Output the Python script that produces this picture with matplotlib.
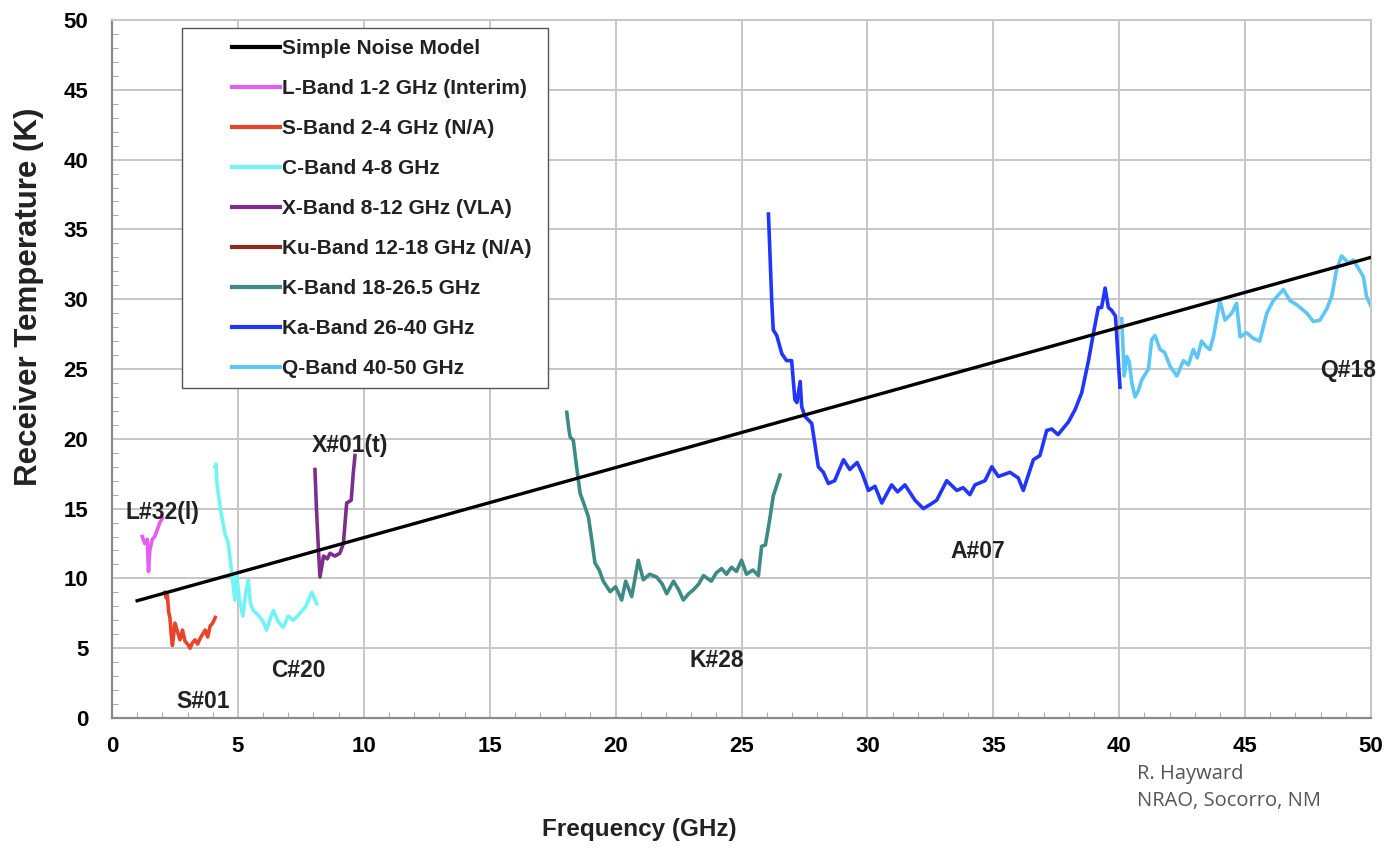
import matplotlib
matplotlib.use("Agg")
import matplotlib.pyplot as plt
from matplotlib.patches import Rectangle
from matplotlib.ticker import MultipleLocator

plt.rcParams["font.family"] = ["Liberation Sans", "DejaVu Sans"]

# ---- data (GHz, K) ----
model_f = [1.0, 50.0]
model_t = [8.4, 33.0]

l_f = [1.2, 1.3, 1.4, 1.45, 1.5, 1.6, 1.7, 1.8, 1.9, 2.0]
l_t = [13.0, 12.5, 12.8, 10.5, 12.0, 12.8, 13.0, 13.5, 14.0, 14.3]

s_f = [2.1, 2.15, 2.2, 2.25, 2.3, 2.35, 2.4, 2.5, 2.6, 2.7, 2.8, 2.9, 3.0, 3.1, 3.2,
       3.3, 3.4, 3.5, 3.6, 3.7, 3.8, 3.9, 4.0, 4.1]
s_t = [9.0, 8.6, 8.8, 7.6, 7.2, 6.0, 5.2, 6.8, 6.2, 5.6, 6.3, 5.5, 5.3, 5.0, 5.4,
       5.6, 5.3, 5.7, 6.0, 6.3, 5.8, 6.6, 6.8, 7.2]

c_f = [4.09, 4.13, 4.17, 4.3, 4.49, 4.62, 4.75, 4.88, 4.95, 5.05, 5.2, 5.3, 5.41, 5.5,
       5.61, 5.8, 6.0, 6.14, 6.3, 6.41, 6.6, 6.8, 7.0, 7.2, 7.47, 7.7, 7.93, 8.13]
c_t = [18.0, 18.2, 16.8, 15.0, 13.2, 12.5, 10.5, 8.45, 10.3, 8.6, 7.3, 8.8, 9.9, 8.2,
       7.7, 7.4, 6.9, 6.3, 7.2, 7.7, 6.9, 6.5, 7.3, 7.0, 7.5, 8.0, 9.0, 8.2]

x_f = [8.06, 8.12, 8.2, 8.26, 8.4, 8.55, 8.66, 8.85, 9.05, 9.19, 9.32, 9.5, 9.58, 9.65]
x_t = [17.8, 15.0, 12.0, 10.1, 11.6, 11.4, 11.8, 11.6, 11.8, 12.5, 15.4, 15.6, 17.5, 18.8]

ku_f = []
ku_t = []

k_f = [18.06, 18.15, 18.2, 18.32, 18.45, 18.59, 18.75, 18.92, 19.05, 19.18, 19.35, 19.51,
       19.78, 20.0, 20.24, 20.4, 20.64, 20.9, 21.1, 21.35, 21.63, 21.85, 22.03, 22.3,
       22.5, 22.69, 22.9, 23.1, 23.3, 23.49, 23.8, 24.0, 24.21, 24.4, 24.6, 24.8, 25.0,
       25.2, 25.45, 25.67, 25.8, 25.95, 26.1, 26.26, 26.53]
k_t = [21.9, 20.6, 20.1, 19.9, 18.0, 16.1, 15.3, 14.4, 12.8, 11.1, 10.6, 9.8,
       9.05, 9.4, 8.45, 9.8, 8.7, 11.3, 9.9, 10.3, 10.1, 9.6, 8.9, 9.8,
       9.2, 8.45, 8.9, 9.2, 9.6, 10.2, 9.8, 10.4, 10.7, 10.3, 10.8, 10.5, 11.3,
       10.3, 10.6, 10.2, 12.3, 12.4, 14.0, 15.9, 17.4]

ka_f = [26.07, 26.2, 26.26, 26.4, 26.6, 26.79, 26.99, 27.12, 27.2, 27.33, 27.39, 27.52,
        27.79, 28.05, 28.25, 28.45, 28.7, 29.05, 29.3, 29.59, 29.8, 30.04, 30.3, 30.57,
        30.96, 31.2, 31.49, 31.89, 32.22, 32.5, 32.75, 33.15, 33.55, 33.8, 34.07, 34.27,
        34.67, 34.94, 35.2, 35.66, 35.99, 36.19, 36.59, 36.85, 37.12, 37.32, 37.57,
        37.98, 38.25, 38.51, 38.78, 38.98, 39.17, 39.3, 39.44, 39.57, 39.7, 39.85, 40.03]
ka_t = [36.1, 29.9, 27.8, 27.4, 26.1, 25.6, 25.6, 22.8, 22.6, 24.1, 22.3, 21.6,
        21.1, 18.0, 17.6, 16.8, 17.0, 18.5, 17.8, 18.3, 17.5, 16.3, 16.6, 15.4,
        16.7, 16.2, 16.7, 15.6, 15.0, 15.3, 15.6, 17.0, 16.3, 16.5, 16.0, 16.7,
        17.0, 18.0, 17.3, 17.6, 17.2, 16.3, 18.5, 18.8, 20.6, 20.7, 20.3,
        21.2, 22.1, 23.3, 25.6, 27.6, 29.4, 29.4, 30.8, 29.4, 29.2, 28.8, 23.7]

q_f = [40.1, 40.2, 40.3, 40.4, 40.5, 40.63, 40.75, 40.89, 41.16, 41.29, 41.42, 41.62,
       41.8, 42.02, 42.29, 42.55, 42.75, 42.94, 43.1, 43.27, 43.45, 43.6, 43.74, 44.0,
       44.2, 44.47, 44.66, 44.8, 45.06, 45.32, 45.58, 45.86, 46.12, 46.52, 46.78, 47.05,
       47.45, 47.71, 47.97, 48.24, 48.44, 48.63, 48.83, 49.1, 49.3, 49.5, 49.7, 49.82, 50.0]
q_t = [28.6, 24.5, 25.9, 25.5, 24.0, 23.0, 23.4, 24.2, 25.0, 27.1, 27.4, 26.4,
       26.2, 25.2, 24.5, 25.6, 25.3, 26.4, 25.8, 27.0, 26.6, 26.4, 27.3, 29.9,
       28.5, 29.0, 29.7, 27.3, 27.6, 27.2, 27.0, 29.0, 29.9, 30.7, 29.9, 29.6,
       29.0, 28.4, 28.5, 29.3, 30.2, 32.1, 33.1, 32.6, 32.8, 32.2, 31.6, 30.2, 29.5]

bands = [
    ("Simple Noise Model", model_f, model_t, "black"),
    ("L-Band 1-2 GHz (Interim)", l_f, l_t, "#e45ef2"),
    ("S-Band 2-4 GHz (N/A)", s_f, s_t, "#e8442c"),
    ("C-Band 4-8 GHz", c_f, c_t, "#72f4f4"),
    ("X-Band 8-12 GHz (VLA)", x_f, x_t, "#7d2e8a"),
    ("Ku-Band 12-18 GHz (N/A)", ku_f, ku_t, "#8a2c22"),
    ("K-Band 18-26.5 GHz", k_f, k_t, "#3e8a84"),
    ("Ka-Band 26-40 GHz", ka_f, ka_t, "#2236fa"),
    ("Q-Band 40-50 GHz", q_f, q_t, "#5cc6f4"),
]

# receiver tags placed next to each curve
tags = ["L#32(l)", "S#01", "C#20", "X#01(t)", "K#28", "A#07", "Q#18"]
tag_f = [2.0, 3.6, 7.4, 9.45, 24.0, 34.4, 49.1]
tag_t = [14.75, 1.15, 3.4, 19.5, 4.15, 11.9, 24.9]

fig = plt.figure(figsize=(13.86, 8.48), dpi=100)
ax = fig.add_axes([0.0808, 0.1533, 0.9084, 0.8231])

for i, (lab, f, t, col) in enumerate(bands):
    lw = 2.4 if i == 0 else 2.6
    ax.plot(f, t, color=col, lw=lw, label=lab, zorder=3 if i == 0 else 2,
            solid_joinstyle="round")

for txt, f, t in zip(tags, tag_f, tag_t):
    ax.text(f, t, txt, ha="center", va="center", fontsize=16.5, fontweight="bold",
            color="#222222", zorder=4)

ax.set_xlim(0, 50)
ax.set_ylim(0, 50)
ax.xaxis.set_major_locator(MultipleLocator(5))
ax.yaxis.set_major_locator(MultipleLocator(5))
ax.xaxis.set_minor_locator(MultipleLocator(1))
ax.yaxis.set_minor_locator(MultipleLocator(1))
ax.grid(which="major", color="#c6c6c6", lw=1.4, zorder=0)
ax.tick_params(which="major", length=0, labelsize=16)
ax.tick_params(axis="x", which="major", pad=13)
ax.tick_params(axis="y", which="major", pad=17)
ax.tick_params(which="minor", direction="in", length=4, color="#999999")
for lbl in ax.get_xticklabels() + ax.get_yticklabels():
    lbl.set_fontweight("bold")
for side in ("top", "right"):
    ax.spines[side].set_color("#c6c6c6")
    ax.spines[side].set_linewidth(1.4)
for side in ("left", "bottom"):
    ax.spines[side].set_color("#8a8a8a")
    ax.spines[side].set_linewidth(1.6)

ax.set_xlabel("Frequency (GHz)", fontsize=17.5, fontweight="bold", color="#222222",
              va="center")
ax.set_ylabel("Receiver Temperature (K)", fontsize=22.5, fontweight="bold", color="#222222",
              va="center")
ax.xaxis.set_label_coords(0.419, -0.160)
ax.yaxis.set_label_coords(-0.066, 0.603)

# legend box, drawn separately so the wide left margin can be kept
ax.add_patch(Rectangle((0.0556, 0.4728), 0.2907, 0.5157, transform=ax.transAxes,
                       facecolor="white", edgecolor="#555555", lw=1.0, zorder=5))
leg = ax.legend(loc="upper left", bbox_to_anchor=(0.0953, 0.973), frameon=False,
                fontsize=15, handlelength=2.3, handletextpad=0.1, labelspacing=1.01,
                borderpad=0, borderaxespad=0)
leg.set_zorder(6)
for txt in leg.get_texts():
    txt.set_fontweight("bold")
    txt.set_color("#222222")
for ln in leg.get_lines():
    ln.set_linewidth(3)

fig.text(0.820, 0.087, "R. Hayward", fontsize=14.5, color="#555555", va="center",
         family="Open Sans")
fig.text(0.820, 0.056, "NRAO, Socorro, NM", fontsize=14.5, color="#555555", va="center",
         family="Open Sans")

fig.savefig("out.png", dpi=100)
